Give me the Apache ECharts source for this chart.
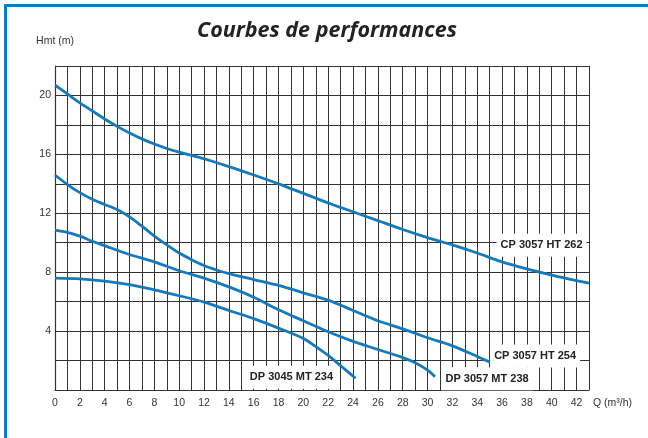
<!DOCTYPE html>
<html>
<head>
<meta charset="UTF-8">
<title>Courbes de performances</title>
<script src="https://cdn.jsdelivr.net/npm/echarts@6/dist/echarts.min.js"></script>
<style>
  html, body { margin: 0; padding: 0; background: #fff; }
  #chart { width: 648px; height: 438px; }
</style>
</head>
<body>
<div id="chart"></div>
<script type="text/javascript">
// courbes (Q en m3/h, Hmt en m)
var names = ['CP 3057 HT 262', 'CP 3057 HT 254', 'DP 3057 MT 238', 'DP 3045 MT 234'];

var q262 = [0, 1, 2, 3, 4, 5, 6, 7, 8, 9, 10, 11, 12, 14, 16, 18, 20, 22, 24, 26, 28, 30, 32, 34, 36, 38, 40, 42, 43];
var h262 = [20.7, 20.1, 19.5, 18.95, 18.4, 17.9, 17.45, 17.05, 16.7, 16.4, 16.15, 15.93, 15.7, 15.17, 14.6, 14.0, 13.35, 12.7, 12.1, 11.5, 10.9, 10.35, 9.85, 9.3, 8.7, 8.22, 7.8, 7.42, 7.25];

var q254 = [0, 1, 2, 3, 4, 5, 6, 7, 8, 9, 10, 11, 12, 13, 14, 16, 18, 20, 22, 24, 26, 28, 30, 32, 34, 35];
var h254 = [14.6, 13.95, 13.4, 12.95, 12.6, 12.25, 11.75, 11.12, 10.45, 9.85, 9.3, 8.85, 8.45, 8.15, 7.9, 7.5, 7.1, 6.6, 6.1, 5.4, 4.7, 4.15, 3.55, 3.0, 2.28, 1.9];

var q238 = [0, 1, 2, 3, 4, 6, 8, 10, 12, 14, 16, 18, 20, 22, 24, 26, 28, 29, 30, 30.6];
var h238 = [10.85, 10.7, 10.45, 10.1, 9.8, 9.2, 8.7, 8.1, 7.6, 7.0, 6.3, 5.45, 4.7, 3.95, 3.3, 2.75, 2.2, 1.85, 1.35, 0.9];

var q234 = [0, 2, 4, 6, 8, 10, 12, 14, 16, 18, 20, 21, 22, 23, 24.2];
var h234 = [7.6, 7.55, 7.4, 7.16, 6.8, 6.4, 5.97, 5.4, 4.85, 4.2, 3.5, 2.95, 2.35, 1.65, 0.8];

var qs = [q262, q254, q238, q234];
var hs = [h262, h254, h238, h234];

// placement des etiquettes autour du dernier point de chaque courbe
var labelSides = ['left', 'right', 'right', 'left'];
var labelDist = [2, 0, 6, 18];
var labelShift = [[0, -38], [0, -6], [0, 2], [0, -1]];

var blue = '#1479bd';
var sans = "'Liberation Sans', Arial, sans-serif";

var chart = echarts.init(document.getElementById('chart'));

var series = [];
for (var i = 0; i < names.length; i++) {
    var pts = qs[i].map(function (q, k) { return [q, hs[i][k]]; });
    var last = pts[pts.length - 1];
    series.push({
        name: names[i],
        type: 'line',
        data: pts,
        smooth: 0.3,
        showSymbol: false,
        symbol: 'none',
        lineStyle: { color: blue, width: 2.8 },
        markPoint: {
            symbol: 'circle',
            symbolSize: 1,
            itemStyle: { color: 'rgba(0,0,0,0)' },
            label: {
                show: true,
                position: labelSides[i],
                distance: labelDist[i],
                offset: labelShift[i],
                formatter: names[i],
                color: '#222',
                fontFamily: sans,
                fontWeight: 'bold',
                fontSize: 11,
                backgroundColor: '#fff',
                padding: [6, 4]
            },
            data: [{ coord: last }]
        }
    });
}

var option = {
    animation: false,
    backgroundColor: '#fff',
    title: {
        text: 'Courbes de performances',
        left: 192,
        top: 15,
        textStyle: {
            fontFamily: "'Open Sans', 'Noto Sans', sans-serif",
            fontStyle: 'italic',
            fontWeight: 'bold',
            fontSize: 21.5,
            color: '#222'
        }
    },
    // cadre bleu
    graphic: [{
        type: 'polyline',
        shape: { points: [[5.5, 440], [5.5, 5.5], [650, 5.5]] },
        style: { stroke: '#0b7dc7', lineWidth: 3, fill: null }
    }],
    grid: { left: 55, right: 59, top: 66, bottom: 48 },
    xAxis: {
        type: 'value',
        min: 0,
        max: 43,
        interval: 1,
        name: 'Q (m³/h)',
        nameLocation: 'end',
        nameGap: 4,
        nameTextStyle: { fontFamily: sans, fontSize: 10.5, color: '#333', verticalAlign: 'top', padding: [8, 0, 0, 0] },
        axisLine: { lineStyle: { color: '#333', width: 1.2 } },
        axisTick: { show: false },
        axisLabel: {
            margin: 8,
            fontFamily: sans,
            fontSize: 10.5,
            color: '#333',
            formatter: function (v) { return v % 2 === 0 ? String(v) : ''; }
        },
        splitLine: { show: true, lineStyle: { color: '#333', width: 1 } }
    },
    yAxis: {
        type: 'value',
        min: 0,
        max: 22,
        interval: 2,
        name: 'Hmt (m)',
        nameLocation: 'end',
        nameGap: 19,
        nameTextStyle: { fontFamily: sans, fontSize: 10.5, color: '#333' },
        axisLine: { show: true, lineStyle: { color: '#333', width: 1.2 } },
        axisTick: { show: false },
        axisLabel: {
            margin: 4,
            fontFamily: sans,
            fontSize: 10.5,
            color: '#333',
            formatter: function (v) { return (v % 4 === 0 && v > 0 && v <= 20) ? String(v) : ''; }
        },
        splitLine: { show: true, lineStyle: { color: '#333', width: 1 } }
    },
    series: series
};

chart.setOption(option);
</script>
</body>
</html>
